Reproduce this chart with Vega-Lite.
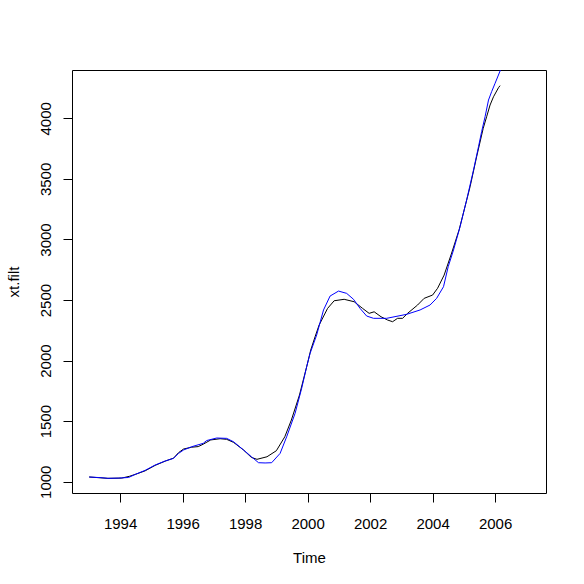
{
  "$schema": "https://vega.github.io/schema/vega-lite/v6.json",
  "width": 474,
  "height": 423,
  "autosize": "none",
  "padding": {"left": 72, "top": 70, "right": 38, "bottom": 91},
  "background": "white",
  "datasets": {
    "filt": [
      {"t": 1993.01, "v": 1039}, {"t": 1993.61, "v": 1028}, {"t": 1994.05, "v": 1030},
      {"t": 1994.3, "v": 1045}, {"t": 1994.5, "v": 1062}, {"t": 1994.8, "v": 1090},
      {"t": 1995.12, "v": 1135}, {"t": 1995.44, "v": 1170}, {"t": 1995.71, "v": 1195},
      {"t": 1995.87, "v": 1240}, {"t": 1996.03, "v": 1270}, {"t": 1996.29, "v": 1285},
      {"t": 1996.5, "v": 1290}, {"t": 1996.66, "v": 1310}, {"t": 1996.9, "v": 1345},
      {"t": 1997.2, "v": 1355}, {"t": 1997.41, "v": 1350}, {"t": 1997.63, "v": 1325},
      {"t": 1997.95, "v": 1262}, {"t": 1998.2, "v": 1201}, {"t": 1998.38, "v": 1185},
      {"t": 1998.7, "v": 1206}, {"t": 1999.0, "v": 1256}, {"t": 1999.27, "v": 1371},
      {"t": 1999.48, "v": 1509}, {"t": 1999.74, "v": 1716}, {"t": 1999.97, "v": 1949},
      {"t": 2000.1, "v": 2087}, {"t": 2000.24, "v": 2197}, {"t": 2000.37, "v": 2294},
      {"t": 2000.64, "v": 2431}, {"t": 2000.85, "v": 2494}, {"t": 2001.17, "v": 2506},
      {"t": 2001.49, "v": 2486}, {"t": 2001.76, "v": 2431}, {"t": 2001.97, "v": 2390},
      {"t": 2002.13, "v": 2403}, {"t": 2002.35, "v": 2362}, {"t": 2002.56, "v": 2335},
      {"t": 2002.72, "v": 2321}, {"t": 2002.88, "v": 2349}, {"t": 2003.04, "v": 2349},
      {"t": 2003.2, "v": 2390}, {"t": 2003.52, "v": 2459}, {"t": 2003.73, "v": 2514},
      {"t": 2004.0, "v": 2541}, {"t": 2004.16, "v": 2597}, {"t": 2004.37, "v": 2706},
      {"t": 2004.6, "v": 2880}, {"t": 2004.85, "v": 3080}, {"t": 2005.2, "v": 3435},
      {"t": 2005.41, "v": 3683}, {"t": 2005.62, "v": 3917}, {"t": 2005.73, "v": 4013},
      {"t": 2005.84, "v": 4110}, {"t": 2005.95, "v": 4178}, {"t": 2006.11, "v": 4253},
      {"t": 2006.16, "v": 4270}
    ],
    "smooth": [
      {"t": 1993.01, "v": 1039}, {"t": 1993.36, "v": 1034}, {"t": 1993.61, "v": 1028},
      {"t": 1993.94, "v": 1030}, {"t": 1994.27, "v": 1035}, {"t": 1994.48, "v": 1060},
      {"t": 1994.8, "v": 1094}, {"t": 1995.12, "v": 1138}, {"t": 1995.44, "v": 1171},
      {"t": 1995.71, "v": 1193}, {"t": 1995.87, "v": 1234}, {"t": 1996.03, "v": 1262},
      {"t": 1996.29, "v": 1289}, {"t": 1996.66, "v": 1317}, {"t": 1996.77, "v": 1340},
      {"t": 1997.09, "v": 1361}, {"t": 1997.41, "v": 1358}, {"t": 1997.63, "v": 1330},
      {"t": 1997.95, "v": 1262}, {"t": 1998.21, "v": 1205}, {"t": 1998.43, "v": 1157},
      {"t": 1998.64, "v": 1155}, {"t": 1998.85, "v": 1157}, {"t": 1999.12, "v": 1234},
      {"t": 1999.33, "v": 1371}, {"t": 1999.6, "v": 1565}, {"t": 1999.81, "v": 1771},
      {"t": 1999.97, "v": 1949}, {"t": 2000.08, "v": 2060}, {"t": 2000.29, "v": 2211},
      {"t": 2000.51, "v": 2418}, {"t": 2000.72, "v": 2533}, {"t": 2000.99, "v": 2574},
      {"t": 2001.25, "v": 2555}, {"t": 2001.47, "v": 2506}, {"t": 2001.68, "v": 2431},
      {"t": 2001.89, "v": 2368}, {"t": 2002.11, "v": 2349}, {"t": 2002.53, "v": 2349},
      {"t": 2003.17, "v": 2382}, {"t": 2003.6, "v": 2418}, {"t": 2003.92, "v": 2459},
      {"t": 2004.13, "v": 2514}, {"t": 2004.35, "v": 2610}, {"t": 2004.5, "v": 2775},
      {"t": 2004.67, "v": 2913}, {"t": 2004.88, "v": 3105}, {"t": 2005.09, "v": 3326},
      {"t": 2005.31, "v": 3573}, {"t": 2005.47, "v": 3766}, {"t": 2005.57, "v": 3890},
      {"t": 2005.68, "v": 4013}, {"t": 2005.79, "v": 4151}, {"t": 2005.89, "v": 4220},
      {"t": 2006.0, "v": 4289}, {"t": 2006.16, "v": 4391}, {"t": 2006.26, "v": 4470}
    ]
  },
  "encoding": {
    "x": {
      "field": "t",
      "type": "quantitative",
      "title": "Time",
      "scale": {"domain": [1992.46, 2007.63], "nice": false, "zero": false},
      "axis": {"values": [1994, 1996, 1998, 2000, 2002, 2004, 2006], "format": "d", "labelPadding": 14, "titlePadding": 19}
    },
    "y": {
      "field": "v",
      "type": "quantitative",
      "title": "xt.filt",
      "scale": {"domain": [907, 4399], "nice": false, "zero": false},
      "axis": {"values": [1000, 1500, 2000, 2500, 3000, 3500, 4000], "format": "d", "labelAngle": -90, "labelAlign": "center", "labelBaseline": "bottom", "labelPadding": 10, "titlePadding": 17}
    }
  },
  "layer": [
    {
      "data": {"name": "filt"},
      "mark": {"type": "line", "color": "#000000", "strokeWidth": 1, "clip": true}
    },
    {
      "data": {"name": "smooth"},
      "mark": {"type": "line", "color": "#0000ff", "strokeWidth": 1, "clip": true}
    }
  ],
  "config": {
    "view": {"stroke": "#000000", "strokeWidth": 1},
    "axis": {
      "grid": false,
      "domain": false,
      "tickSize": 9,
      "tickColor": "#000000",
      "labelColor": "#000000",
      "titleColor": "#000000",
      "labelFont": "Liberation Sans",
      "titleFont": "Liberation Sans",
      "labelFontSize": 15,
      "titleFontSize": 15,
      "titleFontWeight": "normal"
    }
  }
}
